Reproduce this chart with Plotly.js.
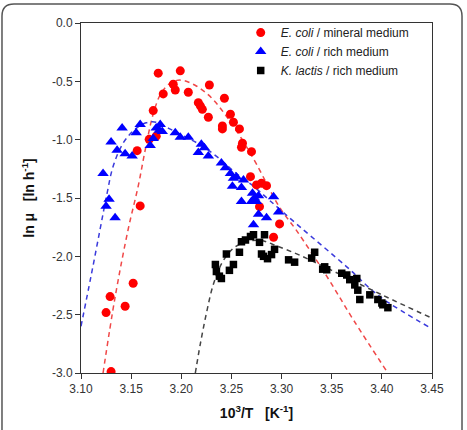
<!DOCTYPE html>
<html>
<head>
<meta charset="utf-8">
<script src="https://cdn.plot.ly/plotly-3.0.1.min.js"></script>
<style>
html,body{margin:0;padding:0;background:#fff;}
#chart{width:467px;height:430px;}
</style>
</head>
<body>
<div id="chart"></div>
<script>
// E. coli / mineral medium (red circles)
const ecoliMinX = [3.177,3.199,3.192,3.194,3.182,3.207,3.228,3.217,3.219,3.221,3.227,3.243,3.249,3.252,3.241,3.241,3.258,3.261,3.260,3.270,3.172,3.168,3.175,3.156,3.159,3.152,3.129,3.125,3.144,3.130,3.269,3.275,3.280,3.285,3.278,3.298,3.292];
const ecoliMinY = [-0.43,-0.41,-0.525,-0.574,-0.608,-0.594,-0.531,-0.683,-0.71,-0.74,-0.808,-0.645,-0.782,-0.851,-0.883,-0.908,-0.908,-1.031,-1.065,-1.103,-0.751,-0.997,-0.97,-1.094,-1.568,-2.231,-2.345,-2.482,-2.428,-2.988,-1.317,-1.388,-1.374,-1.394,-1.574,-1.722,-1.836];

// E. coli / rich medium (blue triangles)
const ecoliRichX = [3.122,3.128,3.125,3.134,3.130,3.136,3.144,3.151,3.141,3.155,3.159,3.169,3.172,3.175,3.179,3.181,3.178,3.194,3.199,3.207,3.220,3.223,3.217,3.227,3.240,3.244,3.249,3.252,3.262,3.251,3.260,3.260,3.271,3.273,3.277,3.270,3.275,3.292,3.277,3.285,3.297,3.272,3.255];
const ecoliRichY = [-1.29,-1.51,-1.57,-1.67,-1.02,-1.09,-1.12,-1.14,-0.90,-0.94,-0.87,-1.05,-0.99,-0.90,-0.87,-0.93,-0.92,-0.94,-0.98,-0.98,-1.04,-1.07,-1.11,-1.14,-1.20,-1.24,-1.29,-1.33,-1.345,-1.40,-1.41,-1.53,-1.46,-1.50,-1.48,-1.53,-1.53,-1.49,-1.64,-1.67,-1.62,-1.73,-1.32];

// K. lactis / rich medium (black squares)
const klactisX = [3.234,3.235,3.238,3.240,3.245,3.248,3.252,3.258,3.260,3.264,3.269,3.272,3.278,3.283,3.280,3.286,3.282,3.293,3.290,3.307,3.313,3.333,3.330,3.343,3.345,3.341,3.360,3.365,3.368,3.375,3.373,3.376,3.378,3.388,3.396,3.400,3.401,3.406];
const klactisY = [-2.07,-2.13,-2.17,-2.19,-1.98,-2.12,-2.07,-1.965,-1.875,-1.86,-1.83,-1.815,-1.88,-1.815,-1.98,-2.02,-2.00,-1.94,-1.985,-2.03,-2.05,-1.965,-2.015,-2.09,-2.115,-2.11,-2.145,-2.16,-2.20,-2.19,-2.245,-2.29,-2.37,-2.33,-2.37,-2.40,-2.415,-2.44];

// Fitted curves
const fitMinX = [3.122,3.134,3.147,3.157,3.164,3.172,3.180,3.190,3.200,3.215,3.230,3.245,3.260,3.275,3.298,3.315,3.345,3.372,3.406];
const fitMinY = [-3.0,-2.35,-1.77,-1.40,-1.09,-0.78,-0.60,-0.51,-0.49,-0.54,-0.64,-0.80,-0.99,-1.21,-1.58,-1.78,-2.17,-2.55,-3.0];
const fitRichX = [3.100,3.110,3.119,3.126,3.132,3.142,3.154,3.165,3.175,3.189,3.205,3.222,3.239,3.255,3.272,3.288,3.318,3.365,3.398,3.450];
const fitRichY = [-2.60,-2.17,-1.77,-1.46,-1.23,-1.03,-0.91,-0.855,-0.85,-0.91,-0.98,-1.06,-1.17,-1.29,-1.40,-1.52,-1.745,-2.09,-2.345,-2.62];
const fitKlX = [3.214,3.219,3.225,3.232,3.241,3.252,3.265,3.280,3.295,3.318,3.350,3.400,3.450];
const fitKlY = [-3.0,-2.75,-2.49,-2.24,-2.05,-1.93,-1.875,-1.865,-1.91,-1.99,-2.12,-2.33,-2.53];

const xTickVals = [3.10,3.15,3.20,3.25,3.30,3.35,3.40,3.45];
const xTickText = ['3.10','3.15','3.20','3.25','3.30','3.35','3.40','3.45'];
const yTickVals = [0,-0.5,-1,-1.5,-2,-2.5,-3];
const yTickText = ['0.0','-0.5','-1.0','-1.5','-2.0','-2.5','-3.0'];

const seriesNames = ['<i>E. coli</i> / mineral medium','<i>E. coli</i> / rich medium','<i>K. lactis</i> / rich medium'];

const dashStyle = '5px,4px';
const traces = [
  {x: fitMinX, y: fitMinY, mode:'lines', line:{color:'#f04848', width:1.5, dash:dashStyle, shape:'spline'}, showlegend:false, hoverinfo:'skip'},
  {x: fitRichX, y: fitRichY, mode:'lines', line:{color:'#3a3adc', width:1.5, dash:dashStyle, shape:'spline'}, showlegend:false, hoverinfo:'skip'},
  {x: fitKlX, y: fitKlY, mode:'lines', line:{color:'#444444', width:1.5, dash:dashStyle, shape:'spline'}, showlegend:false, hoverinfo:'skip'},
  {x: klactisX, y: klactisY, mode:'markers', name: seriesNames[2], legendrank:3, marker:{symbol:'square', size:7.5, color:'#000000'}},
  {x: ecoliMinX, y: ecoliMinY, mode:'markers', name: seriesNames[0], legendrank:1, marker:{symbol:'circle', size:9, color:'#ff0000'}},
  {x: ecoliRichX, y: ecoliRichY, mode:'markers', name: seriesNames[1], legendrank:2, marker:{symbol:'triangle-up', size:10, color:'#0000ff'}}
];

// outer rounded frame, in paper units (plot area 81..432 x 23..373 px)
function px(v){return ((v-81)/351).toFixed(4);}
function py(v){return ((373-v)/350).toFixed(4);}
const framePath = 'M '+px(2)+' '+py(440)+' L '+px(2)+' '+py(16)+' Q '+px(2)+' '+py(4)+' '+px(14)+' '+py(4)+
  ' L '+px(450)+' '+py(4)+' Q '+px(462)+' '+py(4)+' '+px(462)+' '+py(16)+' L '+px(462)+' '+py(440);

const layout = {
  width:467, height:430,
  margin:{l:81, r:35, t:23, b:57},
  paper_bgcolor:'#ffffff', plot_bgcolor:'#ffffff',
  font:{family:'Liberation Sans, Arial, sans-serif', size:12, color:'#333333'},
  showlegend:true,
  legend:{x:0.455, y:1.014, xanchor:'left', yanchor:'top', bgcolor:'rgba(0,0,0,0)', borderwidth:0,
          font:{size:12, color:'#222222'}, traceorder:'normal'},
  xaxis:{range:[3.10,3.45], tickvals:xTickVals, ticktext:xTickText, ticks:'outside', ticklen:5, tickcolor:'#333',
         showline:true, linecolor:'#333', linewidth:1, mirror:true, showgrid:false, zeroline:false,
         tickfont:{size:12, color:'#333'},
         title:{text:'<b>10<sup>3</sup>/T&nbsp;&nbsp;&nbsp;[K<sup>-1</sup>]</b>', font:{size:14, color:'#111'}, standoff:12}},
  yaxis:{range:[-3,0], tickvals:yTickVals, ticktext:yTickText, ticks:'outside', ticklen:5, tickcolor:'#333',
         showline:true, linecolor:'#333', linewidth:1, mirror:true, showgrid:false, zeroline:false,
         tickfont:{size:12, color:'#333'},
         title:{text:'<b>ln μ&nbsp;&nbsp;&nbsp;[ln h<sup>-1</sup>]</b>', font:{size:14, color:'#111'}, standoff:14}},
  shapes:[{type:'path', xref:'paper', yref:'paper', path:framePath, line:{color:'#555555', width:1.5}, layer:'above'}]
};

Plotly.newPlot('chart', traces, layout, {displayModeBar:false, staticPlot:true});
</script>
</body>
</html>
